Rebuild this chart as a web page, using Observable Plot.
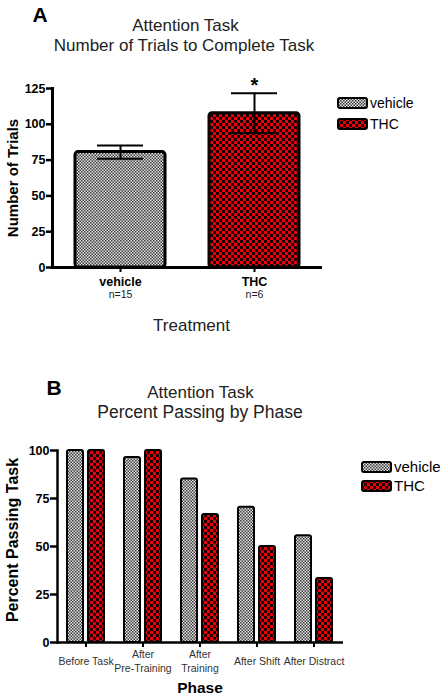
<!DOCTYPE html>
<html>
<head>
<meta charset="utf-8">
<script src="https://cdn.jsdelivr.net/npm/d3@7"></script>
<script src="https://cdn.jsdelivr.net/npm/@observablehq/plot@0.6"></script>
<style>
  html, body { margin: 0; padding: 0; background: #fff; }
  #wrap { position: relative; width: 448px; height: 698px; overflow: hidden; font-family: "Liberation Sans", Arial, sans-serif; color: #000; }
  .lbl { position: absolute; white-space: nowrap; line-height: 1; transform: translate(-50%, -50%); }
  .plot { position: absolute; left: 0; }
  .leg { position: absolute; display: flex; align-items: center; white-space: nowrap; line-height: 1; }
  .leg svg { margin-right: 2px; }
</style>
</head>
<body>
<div id="wrap">
  <svg width="0" height="0" style="position:absolute">
    <defs>
      <pattern id="veh" width="3" height="3" patternUnits="userSpaceOnUse">
        <rect width="3" height="3" fill="#e2e2e2"/>
        <rect width="1.5" height="1.5" fill="#3c3c3c"/>
        <rect x="1.5" y="1.5" width="1.5" height="1.5" fill="#3c3c3c"/>
      </pattern>
      <pattern id="thc" width="6" height="6" patternUnits="userSpaceOnUse">
        <rect width="6" height="6" fill="#e8000a"/>
        <rect width="3" height="3" fill="#1a0000"/>
        <rect x="3" y="3" width="3" height="3" fill="#1a0000"/>
      </pattern>
    </defs>
  </svg>
</div>
<script>
// ---------- Data: panel A ----------
const groupsA = ["vehicle", "THC"];
const nLabelsA = ["n=15", "n=6"];
const meanA = [80.6, 107.8];
const semA = [4.6, 13.9];
const ticksA = [0, 25, 50, 75, 100, 125];

// ---------- Data: panel B ----------
const phasesB = ["Before Task", "After\nPre-Training", "After\nTraining", "After Shift", "After Distract"];
const vehicleB = [100, 96.3, 85.2, 70.4, 55.6];
const thcB = [100, 100, 66.7, 50, 33.3];
const ticksB = [0, 25, 50, 75, 100];

const seriesNames = ["vehicle", "THC"];
const FONT = '"Liberation Sans", Arial, sans-serif';

const dataA = groupsA.map((g, i) => ({group: g, n: nLabelsA[i], mean: meanA[i], lo: meanA[i] - semA[i], hi: meanA[i] + semA[i]}));
const dataB = phasesB.map((p, i) => ({phase: p, vehicle: vehicleB[i], thc: thcB[i]}));

const wrap = document.getElementById("wrap");

function label(text, x, y, css) {
  const d = document.createElement("div");
  d.className = "lbl";
  d.textContent = text;
  d.style.left = x + "px";
  d.style.top = y + "px";
  Object.assign(d.style, css || {});
  wrap.appendChild(d);
  return d;
}
function legend(x, y, name, pat, fontSize) {
  const d = document.createElement("div");
  d.className = "leg";
  d.style.left = x + "px";
  d.style.top = y + "px";
  d.style.fontSize = fontSize + "px";
  d.innerHTML = `<svg width="31" height="12"><rect x="1" y="1" width="29" height="10" rx="2" fill="url(#${pat})" stroke="black" stroke-width="2"/></svg><span>${name}</span>`;
  wrap.appendChild(d);
}

// ---------- Panel A ----------
const plotA = Plot.plot({
  width: 448, height: 280,
  marginTop: 28, marginBottom: 73, marginLeft: 52, marginRight: 126,
  x: {domain: groupsA, paddingInner: 0.33, paddingOuter: 0.17},
  y: {domain: [0, 125]},
  style: {fontFamily: FONT, color: "black", background: "transparent", overflow: "visible"},
  marks: [
    Plot.barY(dataA.filter(d => d.group === "vehicle"), {x: "group", y: "mean", fill: "url(#veh)", stroke: "black", strokeWidth: 3, rx: 3}),
    Plot.barY(dataA.filter(d => d.group === "THC"), {x: "group", y: "mean", fill: "url(#thc)", stroke: "black", strokeWidth: 3, rx: 3}),
    Plot.ruleX(dataA, {x: "group", y1: "lo", y2: "hi", stroke: "black", strokeWidth: 2}),
    Plot.tickY(dataA, {x: "group", y: "hi", insetLeft: 22, insetRight: 22, stroke: "black", strokeWidth: 2}),
    Plot.tickY(dataA, {x: "group", y: "lo", insetLeft: 22, insetRight: 22, stroke: "black", strokeWidth: 2}),
    Plot.text(dataA.filter(d => d.group === "THC"), {x: "group", y: "hi", text: () => "*", dy: -8, fontSize: 20, fontWeight: "bold"}),
    Plot.ruleY([0], {stroke: "black", strokeWidth: 3}),
    Plot.frame({anchor: "left", stroke: "black", strokeWidth: 3}),
    Plot.axisY({ticks: ticksA, tickSize: 6, tickPadding: 1, fontSize: 12.5, fontWeight: "bold", strokeWidth: 2.5, label: null}),
    Plot.axisX({tickSize: 5, tickFormat: () => "", strokeWidth: 2, label: null}),
    Plot.text(dataA, {x: "group", y: 0, dy: 14, text: "group", fontSize: 12.5, fontWeight: "bold"}),
    Plot.text(dataA, {x: "group", y: 0, dy: 27, text: "n", fontSize: 10.5, fill: "#222"})
  ]
});
plotA.classList.add("plot");
plotA.style.top = "60px";
wrap.appendChild(plotA);

// ---------- Panel B ----------
const plotB = Plot.plot({
  width: 448, height: 268,
  marginTop: 20, marginBottom: 56, marginLeft: 57, marginRight: 105,
  x: {domain: phasesB, paddingInner: 0.35, paddingOuter: 0.175},
  y: {domain: [0, 100]},
  style: {fontFamily: FONT, color: "black", background: "transparent", overflow: "visible"},
  marks: [
    Plot.barY(dataB, {x: "phase", y: "vehicle", insetRight: 21, fill: "url(#veh)", stroke: "black", strokeWidth: 2, rx: 2}),
    Plot.barY(dataB, {x: "phase", y: "thc", insetLeft: 21, fill: "url(#thc)", stroke: "black", strokeWidth: 2, rx: 2}),
    Plot.ruleY([0], {stroke: "black", strokeWidth: 2.5}),
    Plot.frame({anchor: "left", stroke: "black", strokeWidth: 2.5}),
    Plot.axisY({ticks: ticksB, tickSize: 7, tickPadding: 1, fontSize: 12.5, fontWeight: "bold", strokeWidth: 2.5, label: null}),
    Plot.axisX({tickSize: 5, tickFormat: () => "", strokeWidth: 2, label: null}),
    Plot.text(dataB, {x: "phase", y: 0, dy: 18, text: "phase", fontSize: 10.5, lineHeight: 1.33, fill: "#333"})
  ]
});
plotB.classList.add("plot");
plotB.style.top = "430px";
wrap.appendChild(plotB);

// ---------- Titles, axis titles, legends ----------
label("A", 40, 14, {fontSize: "21px", fontWeight: "bold"});
label("Attention Task", 185.5, 25, {fontSize: "17px", color: "#222"});
label("Number of Trials to Complete Task", 184, 45, {fontSize: "17px", color: "#222"});
label("Number of Trials", 12, 178, {fontSize: "15px", fontWeight: "bold", transform: "translate(-50%, -50%) rotate(-90deg)"});
label("Treatment", 191.5, 325, {fontSize: "17px", color: "#222"});
legend(337, 96, seriesNames[0], "veh", 14);
legend(337, 117, seriesNames[1], "thc", 14);

label("B", 54, 387, {fontSize: "21px", fontWeight: "bold"});
label("Attention Task", 200.5, 392, {fontSize: "17px", color: "#222"});
label("Percent Passing by Phase", 200, 413, {fontSize: "17.5px", color: "#222"});
label("Percent Passing Task", 13, 540, {fontSize: "16px", fontWeight: "bold", transform: "translate(-50%, -50%) rotate(-90deg)"});
label("Phase", 200, 688, {fontSize: "15.5px", fontWeight: "bold"});
legend(361, 459, seriesNames[0], "veh", 15);
legend(361, 478, seriesNames[1], "thc", 15);
</script>
</body>
</html>
